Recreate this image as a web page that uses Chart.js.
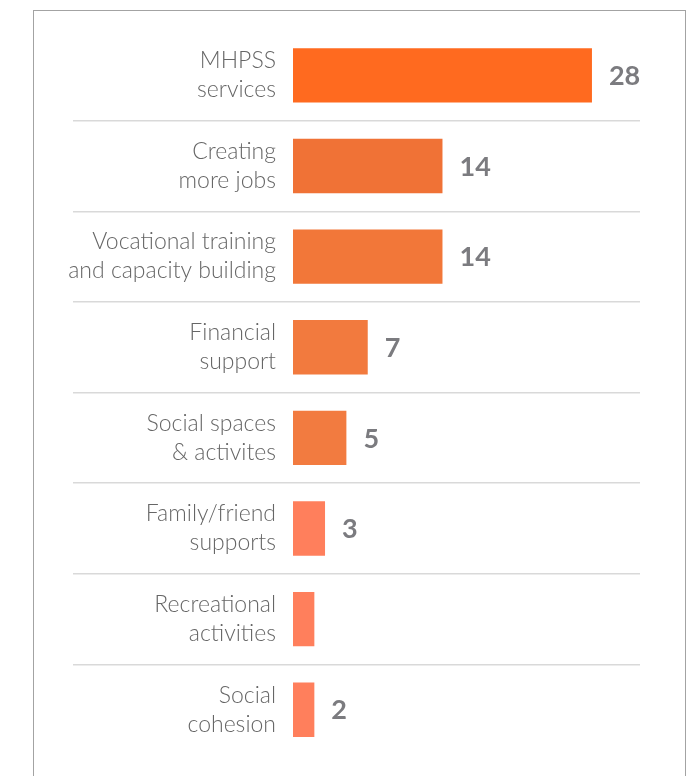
<!DOCTYPE html>
<html>
<head>
<meta charset="utf-8">
<script src="https://cdn.jsdelivr.net/npm/chart.js@4"></script>
<style>
  html, body { margin: 0; padding: 0; background: #fff; }
  body { width: 699px; height: 776px; position: relative; overflow: hidden; }
  .frame {
    position: absolute; left: 33px; top: 10px; width: 653px; height: 820px;
    border: 1.5px solid #a3a3a3; box-sizing: border-box;
  }
  #chart { position: absolute; left: 0; top: 0; }
</style>
</head>
<body>
<div class="frame"></div>
<canvas id="chart" width="699" height="776"></canvas>
<script>
const categories = [
  ['MHPSS', 'services'],
  ['Creating', 'more jobs'],
  ['Vocational training', 'and capacity building'],
  ['Financial', 'support'],
  ['Social spaces', '& activites'],
  ['Family/friend', 'supports'],
  ['Recreational', 'activities'],
  ['Social', 'cohesion'],
];
const counts = [28, 14, 14, 7, 5, 3, 2, 2];
const valueLabels = ['28', '14', '14', '7', '5', '3', '', '2'];
const barColors = ['#FF6A1F', '#F07236', '#F27739', '#F27A3E', '#F27B40', '#FF7F5C', '#FF7F5C', '#FF7F5C'];

// prints the count just past the end of each bar
const valueLabelPlugin = {
  id: 'valueLabels',
  afterDatasetsDraw(chart) {
    const ctx = chart.ctx;
    const meta = chart.getDatasetMeta(0);
    ctx.save();
    ctx.font = 'bold 27px Lato, sans-serif';
    ctx.fillStyle = '#7b7b7f';
    ctx.textAlign = 'left';
    ctx.textBaseline = 'middle';
    meta.data.forEach((bar, i) => {
      if (valueLabels[i]) ctx.fillText(valueLabels[i], bar.x + 17, bar.y + 1);
    });
    ctx.restore();
  },
};

new Chart(document.getElementById('chart'), {
  type: 'bar',
  data: {
    labels: categories,
    datasets: [{
      data: counts,
      backgroundColor: barColors,
      borderWidth: 0,
      categoryPercentage: 1,
      barPercentage: 0.6,
    }],
  },
  options: {
    indexAxis: 'y',
    responsive: false,
    animation: false,
    layout: { padding: { left: 33, right: 59, top: 30, bottom: 21 } },
    plugins: { legend: { display: false }, tooltip: { enabled: false } },
    scales: {
      x: {
        display: false,
        min: 0,
        max: 32.5,
      },
      y: {
        border: { display: false },
        grid: {
          drawOnChartArea: true,
          drawTicks: true,
          tickLength: 220,
          lineWidth: 1.5,
          color: (c) => (c.type !== 'tick' || c.index === 0 ? 'rgba(0,0,0,0)' : '#d9d9d9'),
        },
        ticks: {
          padding: -203,
          color: '#666666',
          font: { family: 'Lato, sans-serif', size: 23, weight: 300, lineHeight: 1.26 },
        },
        afterFit(scale) { scale.width = 260; },
      },
    },
  },
  plugins: [valueLabelPlugin],
});
</script>
</body>
</html>
